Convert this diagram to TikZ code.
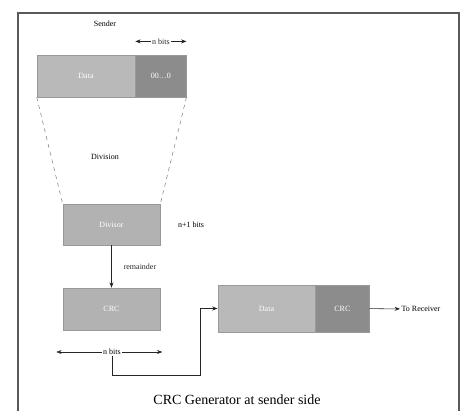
\documentclass[tikz,border=0pt]{standalone}
\usepackage{fontspec}
\setmainfont{Liberation Serif}
\usetikzlibrary{arrows.meta, positioning}

\begin{document}
\begin{tikzpicture}[
  x=0.75pt, y=-0.75pt,
  field/.style={draw=gray!80, fill=gray!55, text=white, font=\fontsize{6}{7}\selectfont, inner sep=0pt, minimum height=31.5pt},
  darkfield/.style={field, fill=gray!100!black!90},
  lbl/.style={font=\fontsize{6}{7}\selectfont, inner sep=1pt},
  arrow/.style={-{Stealth[length=4pt,width=3pt]}, gray!30!black, thin},
  dim/.style={{Stealth[length=4pt,width=3pt]}-{Stealth[length=4pt,width=3pt]}, gray!30!black, thin}
]
\useasboundingbox (0,0) rectangle (462,411);
% frame
\draw[gray!70!black, line width=1.2pt] (18,411) -- (18,13) -- (459,13) -- (459,411);

\node[lbl] (sender) at (105,24) {Sender};
\node[field, minimum width=73.5pt] (data) at (86,76) {Data};
\node[darkfield, minimum width=38pt, right=0pt of data] (zeros) {00\ldots0};
\coordinate (zl) at ([yshift=10pt]zeros.north west);
\coordinate (zr) at ([yshift=10pt]zeros.north east);
\draw[dim] (zl) -- (zr) node[midway, fill=white, lbl] {n bits};

\node[lbl] (division) at (105,157) {Division};
\node[field, fill=gray!60, minimum width=73pt, minimum height=31pt] (divisor) at (111.5,224.5) {Divisor};
\node[lbl, right=12pt of divisor] (nplus) {n+1 bits};
\draw[dashed, gray] (data.south west) -- (divisor.north west);
\draw[dashed, gray] (zeros.south east) -- (divisor.north east);

\node[field, fill=gray!60, minimum width=73pt] (crc) at (111.5,309) {CRC};
\draw[arrow] (divisor) -- (crc) node[midway, right=8pt, lbl] {remainder};
\node[lbl, fill=white] (nbits) at (112,352) {n bits};
\draw[arrow] (nbits.west) -- ++(-34pt,0);
\draw[arrow] (nbits.east) -- ++(30pt,0);

\node[field, minimum width=73pt, minimum height=35pt] (msgdata) at (266.5,308.5) {Data};
\node[darkfield, minimum width=40pt, minimum height=35pt, right=0pt of msgdata] (msgcrc) {CRC};
\coordinate (turn) at (200,375);
\draw[arrow] (nbits.south) |- (turn) |- (msgdata.west);
\node[lbl, anchor=west] (receiver) at (400,309) {To Receiver};
\draw[arrow] (msgcrc) -- (receiver);

\node[font=\fontsize{10.5}{12}\selectfont] (caption) at (237,400) {CRC Generator at sender side};
\end{tikzpicture}
\end{document}
